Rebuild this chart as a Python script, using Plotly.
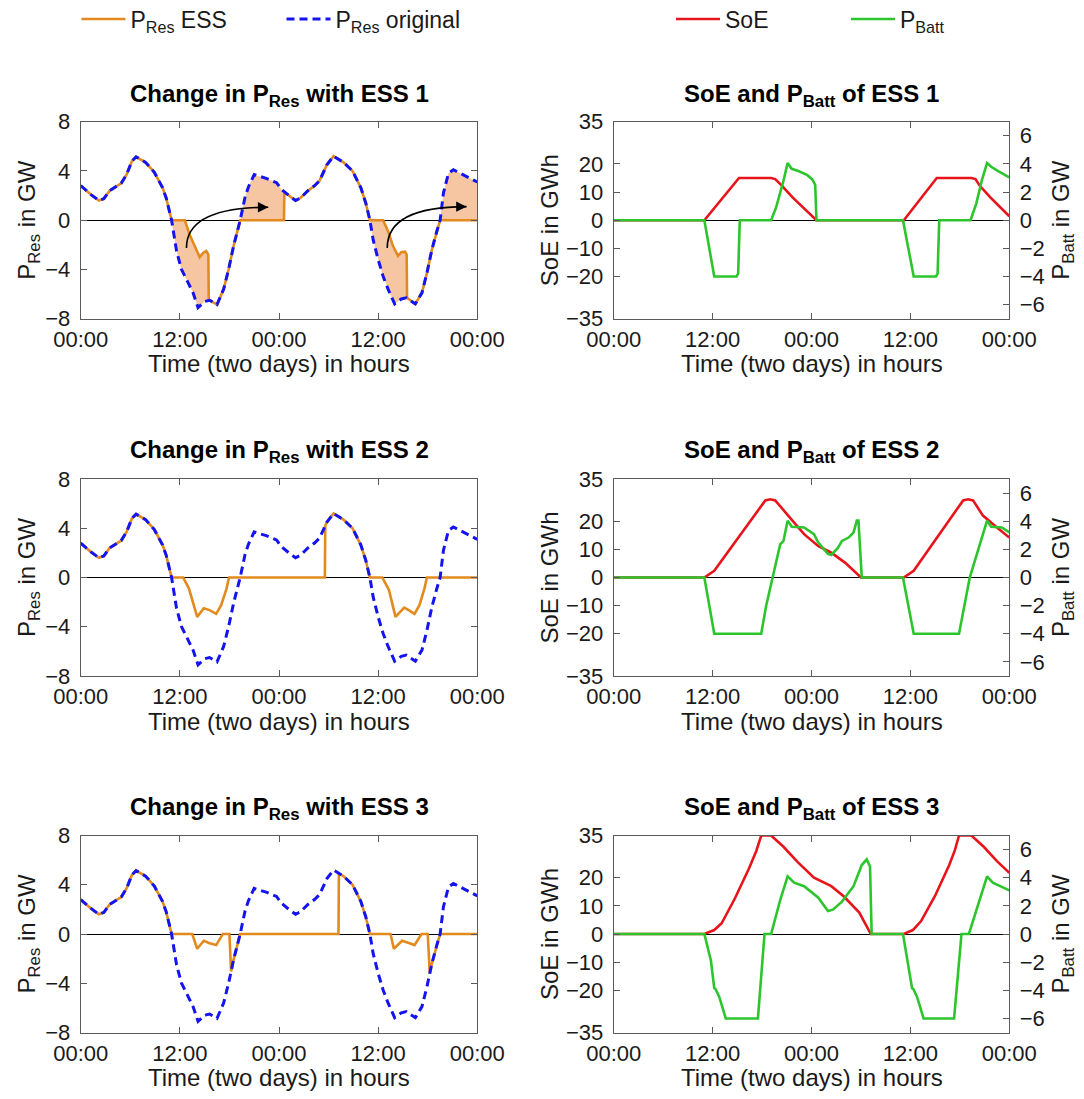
import numpy as np
import plotly.graph_objects as go

W, H = 1084, 1099
FONT = "Liberation Sans, Arial, Helvetica, sans-serif"
ORANGE = "#E38A1F"
FILL = "rgba(246,198,162,1)"
BLUE = "#1414F0"
RED = "#E8141C"
GREEN = "#2DC52D"
AXC = "#5a5a5a"
TXT = "#1a1a1a"

# ---------------- data ----------------
hour_ticks = [0, 12, 24, 36, 48]
hour_labels = ["00:00", "12:00", "00:00", "12:00", "00:00"]
x_title = "Time (two days) in hours"

# original residual load (GW) over two days (hours)
t_orig = [0.0, 1.2, 2.2, 2.8, 3.5, 4.5, 4.9, 5.55, 6.2, 6.7, 7.85, 8.9, 9.9, 10.35, 11.0,
          11.6, 12.2, 12.8, 13.6, 14.2, 15.0, 15.6, 16.5, 17.3, 17.9, 18.5, 19.1, 19.3,
          19.9, 20.3, 21.0, 21.6, 22.45, 23.7, 24.3, 25.2, 26.0, 26.6, 27.5, 28.3, 28.9,
          29.8, 30.6, 31.8, 32.9, 33.9, 34.5, 35.0, 35.4, 36.0, 36.6, 37.2, 38.0, 38.8,
          39.4, 40.5, 41.3, 41.9, 42.5, 43.1, 43.5, 43.9, 44.5, 45.1, 46.3, 46.8, 48.0]
p_orig = [2.8, 2.1, 1.6, 1.75, 2.4, 2.8, 3.0, 3.7, 4.8, 5.15, 4.7, 3.9, 2.65, 1.8, 0.0,
          -2.5, -4.0, -4.8, -5.9, -7.1, -6.6, -6.5, -6.85, -5.6, -4.0, -2.1, -0.5, 0.0,
          1.9, 2.7, 3.7, 3.6, 3.4, 3.05, 2.5, 2.0, 1.6, 1.8, 2.4, 2.8, 3.2,
          4.5, 5.2, 4.7, 4.0, 2.65, 1.4, 0.0, -1.6, -3.2, -4.55, -5.6, -6.8, -6.4,
          -6.3, -6.8, -5.9, -4.3, -2.4, -0.9, 0.0, 2.2, 3.8, 4.1, 3.7, 3.5, 3.1]

# residual load with ESS 1
t_ess1 = [0.0, 1.2, 2.2, 2.8, 3.5, 4.5, 4.9, 5.55, 6.2, 6.7, 7.85, 8.9, 9.9, 10.35, 11.0,
          12.6, 13.2, 13.8, 14.4, 14.8, 15.2, 15.45, 15.5, 15.6, 16.5, 17.3, 17.9, 18.5,
          19.1, 19.3, 24.6, 24.65, 25.2, 26.0, 26.6, 27.5, 28.3, 28.9, 29.8, 30.6, 31.8,
          32.9, 33.9, 34.5, 35.0, 36.6, 37.2, 37.8, 38.4, 38.8, 39.25, 39.45, 39.5, 40.5,
          41.3, 41.9, 42.5, 43.1, 43.5, 48.0]
p_ess1 = [2.8, 2.1, 1.6, 1.75, 2.4, 2.8, 3.0, 3.7, 4.8, 5.15, 4.7, 3.9, 2.65, 1.8, 0.0,
          0.0, -1.2, -2.1, -3.0, -2.66, -2.5, -2.8, -6.5, -6.5, -6.85, -5.6, -4.0, -2.1,
          -0.5, 0.0, 0.0, 2.3, 2.0, 1.6, 1.8, 2.4, 2.8, 3.2, 4.5, 5.2, 4.7,
          4.0, 2.65, 1.4, 0.0, 0.0, -0.9, -2.1, -2.9, -2.6, -2.55, -2.8, -6.3, -6.8,
          -5.9, -4.3, -2.4, -0.9, 0.0, 0.0]

# residual load with ESS 2
t_ess2 = [0.0, 1.2, 2.2, 2.8, 3.5, 4.5, 4.9, 5.55, 6.2, 6.7, 7.85, 8.9, 9.9, 10.35, 11.0,
          12.4, 13.1, 14.1, 14.9, 15.6, 16.4, 17.0, 17.65, 17.95, 29.55, 29.6, 29.8, 30.6,
          31.8, 32.9, 33.9, 34.5, 35.0, 36.5, 37.3, 38.1, 39.15, 39.7, 40.4, 41.0, 41.6,
          41.9, 48.0]
p_ess2 = [2.8, 2.1, 1.6, 1.75, 2.4, 2.8, 3.0, 3.7, 4.8, 5.15, 4.7, 3.9, 2.65, 1.8, 0.0,
          0.0, -0.9, -3.2, -2.5, -2.65, -2.95, -2.25, -0.9, 0.0, 0.0, 4.2, 4.5, 5.2,
          4.7, 4.0, 2.65, 1.4, 0.0, 0.0, -1.0, -3.2, -2.45, -2.65, -2.95, -2.25, -0.9,
          0.0, 0.0]

# residual load with ESS 3
t_ess3 = [0.0, 1.2, 2.2, 2.8, 3.5, 4.5, 4.9, 5.55, 6.2, 6.7, 7.85, 8.9, 9.9, 10.35, 11.0,
          13.5, 14.1, 14.9, 15.6, 16.4, 17.0, 17.2, 18.0, 18.2, 18.5, 19.1, 19.3, 31.2,
          31.25, 31.8, 32.9, 33.9, 34.5, 35.0, 37.5, 37.9, 38.9, 39.8, 40.4, 41.0, 41.25,
          42.0, 42.25, 42.5, 43.1, 43.5, 48.0]
p_ess3 = [2.8, 2.1, 1.6, 1.75, 2.4, 2.8, 3.0, 3.7, 4.8, 5.15, 4.7, 3.9, 2.65, 1.8, 0.0,
          0.0, -1.2, -0.55, -0.75, -0.9, -0.27, 0.0, 0.0, -3.05, -2.1, -0.5, 0.0, 0.0,
          4.9, 4.7, 4.0, 2.65, 1.4, 0.0, 0.0, -1.2, -0.55, -0.75, -0.9, -0.27, 0.0,
          0.0, -3.2, -2.4, -0.9, 0.0, 0.0]

# state of energy (GWh) and battery power (GW)
t_soe1 = [0.0, 11.0, 15.2, 19.1, 19.6, 20.4, 21.7, 24.6, 35.2, 39.2, 43.4, 43.9, 44.4, 45.7, 48.0]
soe1 = [0, 0, 15, 15, 14.6, 12.3, 8.1, 0, 0, 15, 15, 14.6, 12.3, 8.1, 1.4]
t_batt1 = [0.0, 11.0, 12.2, 14.9, 15.1, 15.3, 19.1, 19.7, 20.6, 21.1, 21.6, 22.4, 23.5, 24.1,
           24.45, 24.6, 35.1, 36.4, 39.1, 39.3, 39.5, 43.3, 44.0, 44.7, 45.3, 45.8, 46.6, 48.0]
batt1 = [0, 0, -4.0, -4.0, -3.8, 0, 0, 0.9, 2.8, 4.06, 3.65, 3.5, 3.2, 2.9,
         2.5, 0, 0, -4.0, -4.0, -3.8, 0, 0, 1.2, 2.9, 4.06, 3.8, 3.5, 3.05]

t_soe2 = [0.0, 11.0, 12.2, 18.4, 19.0, 19.6, 21.4, 23.1, 24.8, 26.4, 28.1, 29.8, 30.0,
          35.2, 36.4, 42.4, 43.0, 43.6, 44.8, 46.5, 48.0]
soe2 = [0, 0, 2.4, 27.4, 27.8, 27.4, 21.2, 15.4, 11.2, 8.8, 5.2, 0.4, 0,
        0, 2.4, 27.4, 27.8, 27.4, 22.0, 17.8, 14.2]
t_batt2 = [0.0, 11.0, 12.2, 17.9, 18.5, 19.25, 20.2, 20.6, 21.1, 21.6, 23.1, 24.3, 24.8,
           26.0, 26.4, 27.2, 27.7, 28.5, 29.1, 29.5, 29.7, 30.1, 35.1, 36.4, 41.9, 43.2,
           44.4, 44.6, 45.3, 45.8, 47.1, 48.0]
batt2 = [0, 0, -4.0, -4.0, -2.0, 0, 2.35, 2.6, 4.04, 3.6, 3.56, 3.08, 2.5,
         1.68, 1.6, 2.1, 2.6, 2.84, 3.2, 4.04, 4.04, 0, 0, -4.0, -4.0, 0,
         2.35, 2.6, 4.04, 3.6, 3.56, 3.2]

t_soe3 = [0.0, 11.0, 12.2, 13.1, 14.7, 16.4, 17.3, 17.9, 19.1, 20.6, 22.3, 24.3, 26.4, 27.9,
          29.8, 31.2, 35.2, 36.3, 37.3, 39.0, 40.7, 41.4, 41.9, 43.4, 44.9, 46.5, 48.0]
soe3 = [0, 0, 1.4, 3.8, 12.6, 23.2, 29.5, 35.0, 35.0, 31.0, 25.6, 20.0, 17.0, 13.4,
        7.6, 0, 0, 1.4, 4.6, 13.6, 24.4, 29.8, 35.0, 35.0, 31.0, 25.9, 21.7]
t_batt3 = [0.0, 11.0, 11.8, 12.2, 12.35, 12.8, 13.6, 17.5, 18.3, 19.1, 20.2, 21.1, 21.9, 23.1,
           24.8, 26.0, 26.6, 27.7, 29.1, 30.1, 30.7, 31.1, 31.3, 35.1, 36.2, 36.35, 36.8,
           37.6, 41.3, 42.2, 43.1, 44.4, 45.3, 46.0, 48.0]
batt3 = [0, 0, -1.9, -3.85, -3.9, -4.45, -6.0, -6.0, 0, 0, 2.4, 4.1, 3.65, 3.4,
         2.6, 1.63, 1.73, 2.3, 3.4, 4.9, 5.3, 4.8, 0, 0, -3.85, -3.9, -4.45,
         -6.0, -6.0, 0, 0, 2.4, 4.1, 3.65, 3.1]

# curved "energy shift" arrows in ESS 1 panel: (start t, start P, end t, end P)
shift_arrows = [(12.8, -2.25, 22.7, 1.05), (37.1, -2.25, 46.7, 1.1)]

ess_res = [(t_ess1, p_ess1), (t_ess2, p_ess2), (t_ess3, p_ess3)]
ess_soe = [(t_soe1, soe1, t_batt1, batt1), (t_soe2, soe2, t_batt2, batt2),
           (t_soe3, soe3, t_batt3, batt3)]

# ---------------- layout geometry ----------------
XL = [80.7 / W, 477.3 / W]
XR = [613.7 / W, 1009.3 / W]
row_top = [121.7, 479.0, 835.5]
row_h = 197.0
ydom = [[1 - (t + row_h) / H, 1 - t / H] for t in row_top]
title_px = [95.0, 451.5, 808.0]
xtitle_gap = 45.0

fig = go.Figure()

# ---------------- left column ----------------
for i, (te, pe) in enumerate(ess_res):
    xa = "x" if i == 0 else f"x{2 * i + 1}"
    ya = "y" if i == 0 else f"y{2 * i + 1}"
    if i == 0:
        grid = np.unique(np.concatenate([t_orig, te]))
        lo = np.interp(grid, t_orig, p_orig)
        hi = np.interp(grid, te, pe)
        fig.add_trace(go.Scatter(x=grid, y=lo, mode="lines", line=dict(width=0),
                                 showlegend=False, hoverinfo="skip", xaxis=xa, yaxis=ya))
        fig.add_trace(go.Scatter(x=grid, y=hi, mode="lines", line=dict(width=0),
                                 fill="tonexty", fillcolor=FILL,
                                 showlegend=False, hoverinfo="skip", xaxis=xa, yaxis=ya))
    fig.add_trace(go.Scatter(x=te, y=pe, mode="lines", name="P<sub>Res</sub> ESS",
                             line=dict(color=ORANGE, width=2.6), legend="legend",
                             showlegend=(i == 0), xaxis=xa, yaxis=ya))
    fig.add_trace(go.Scatter(x=t_orig, y=p_orig, mode="lines", name="P<sub>Res</sub> original",
                             line=dict(color=BLUE, width=3, dash="8px,5px"), legend="legend",
                             showlegend=(i == 0), xaxis=xa, yaxis=ya))

# ---------------- right column ----------------
for i, (ts, s, tb, b) in enumerate(ess_soe):
    xa = f"x{2 * i + 2}"
    ya = f"y{2 * i + 2}"
    ya2 = f"y{7 + i}"
    fig.add_trace(go.Scatter(x=ts, y=s, mode="lines", name="SoE",
                             line=dict(color=RED, width=2.6), legend="legend2",
                             showlegend=(i == 0), xaxis=xa, yaxis=ya))
    fig.add_trace(go.Scatter(x=tb, y=b, mode="lines", name="P<sub>Batt</sub>",
                             line=dict(color=GREEN, width=2.6), legend="legend2",
                             showlegend=(i == 0), xaxis=xa, yaxis=ya2))

tickfont = dict(family=FONT, size=22, color=TXT)
titlefont = dict(family=FONT, size=24, color=TXT)

def xcfg(dom, anchor):
    return dict(domain=dom, anchor=anchor, range=[0, 48], tickvals=hour_ticks,
                ticktext=hour_labels, ticks="inside", ticklen=6, tickcolor=AXC,
                showline=True, linecolor=AXC, linewidth=1, mirror="ticks", automargin=False,
                showgrid=False, zeroline=False, tickfont=tickfont, ticklabelstandoff=1)

def ycfg(dom, anchor, rng, tv, title, mirror="ticks", standoff=2):
    return dict(domain=dom, anchor=anchor, range=rng, tickvals=tv, ticks="inside", ticklen=6,
                tickcolor=AXC, showline=True, linecolor=AXC, linewidth=1, mirror=mirror,
                showgrid=False, zeroline=True, zerolinecolor="#000", zerolinewidth=1.2,
                tickfont=tickfont, ticklabelstandoff=5, automargin=False,
                title=dict(text=title, font=titlefont, standoff=standoff))

leg_common = dict(orientation="h", xanchor="left", yanchor="top", xref="paper", yref="paper",
                  traceorder="normal", itemwidth=44, entrywidthmode="pixels",
                  font=dict(family=FONT, size=23, color=TXT), bgcolor="rgba(0,0,0,0)")

layout = dict(
    width=W, height=H, margin=dict(l=0, r=0, t=0, b=0, autoexpand=False),
    paper_bgcolor="white", plot_bgcolor="white",
    font=dict(family=FONT, size=22, color=TXT),
    legend=dict(leg_common, x=76.5 / W, y=1 + 2.5 / H, entrywidth=146),
    legend2=dict(leg_common, x=671 / W, y=1 + 2.5 / H, entrywidth=116),
)

for i in range(3):
    xl = "xaxis" if i == 0 else f"xaxis{2 * i + 1}"
    yl = "yaxis" if i == 0 else f"yaxis{2 * i + 1}"
    anc_x = "x" if i == 0 else f"x{2 * i + 1}"
    anc_y = "y" if i == 0 else f"y{2 * i + 1}"
    layout[xl] = xcfg(XL, anc_y)
    layout[yl] = ycfg(ydom[i], anc_x, [-8, 8], [-8, -4, 0, 4, 8], "P<sub>Res</sub> in GW",
                      standoff=2)
    layout[f"xaxis{2 * i + 2}"] = xcfg(XR, f"y{2 * i + 2}")
    layout[f"yaxis{2 * i + 2}"] = ycfg(ydom[i], f"x{2 * i + 2}", [-35, 35],
                                       [-35, -20, -10, 0, 10, 20, 35], "SoE in GWh",
                                       mirror=False, standoff=0)
    sec = ycfg(ydom[i], f"x{2 * i + 2}", [-7, 7], [-6, -4, -2, 0, 2, 4, 6],
               "P<sub>Batt</sub> in GW", mirror=False, standoff=8)
    sec.update(side="right", overlaying=f"y{2 * i + 2}", zeroline=False)
    layout[f"yaxis{7 + i}"] = sec

fig.update_layout(**layout)

# subplot titles and x-axis titles
for i in range(3):
    for j, col in enumerate([XL, XR]):
        txt = (f"<b>Change in P<sub>Res</sub> with ESS {i + 1}</b>" if j == 0
               else f"<b>SoE and P<sub>Batt</sub> of ESS {i + 1}</b>")
        cx = (col[0] + col[1]) / 2
        fig.add_annotation(x=cx, y=1 - title_px[i] / H, xref="paper",
                           yref="paper", text=txt, showarrow=False, xanchor="center",
                           yanchor="middle", font=dict(family=FONT, size=24, color="#000"))
        fig.add_annotation(x=cx, y=1 - (row_top[i] + row_h + xtitle_gap) / H, xref="paper",
                           yref="paper", text=x_title, showarrow=False, xanchor="center",
                           yanchor="middle", font=titlefont)

# curved arrows (ESS 1 panel)
for (x0, y0, x1, y1) in shift_arrows:
    fig.add_shape(type="path", xref="x", yref="y",
                  path=f"M {x0},{y0} Q {x0},{y1} {x1},{y1}",
                  line=dict(color="#000", width=1.6))
    fig.add_annotation(x=x1, y=y1, ax=x1 - 1.2, ay=y1, xref="x", yref="y", axref="x",
                       ayref="y", text="", showarrow=True, arrowhead=2, arrowsize=1.3,
                       arrowwidth=1.6, arrowcolor="#000")

fig.write_html("out.html", config={"displayModeBar": False},
               post_script="document.body.style.margin='0';"
               "document.documentElement.style.overflow='hidden';")
